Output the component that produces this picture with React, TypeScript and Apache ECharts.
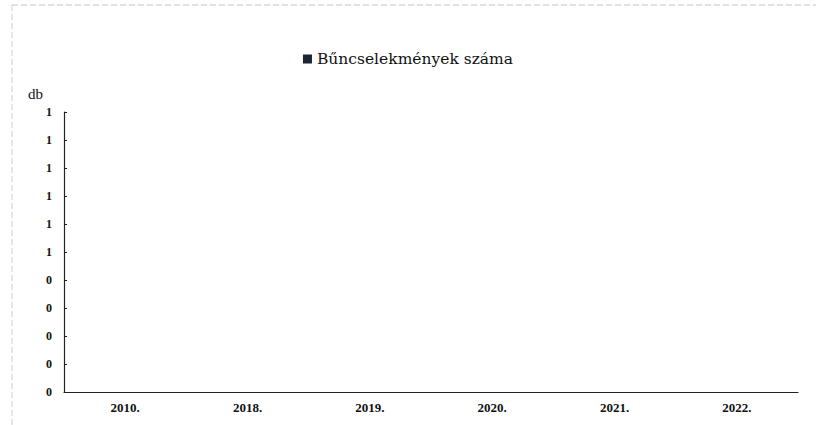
import React, { useEffect, useRef } from "react";
import * as echarts from "echarts";

const categories = ["2010.", "2018.", "2019.", "2020.", "2021.", "2022."];
const crimeCounts = [0, 0, 0, 0, 0, 0];
const seriesName = "Bűncselekmények száma";
const yAxisName = "db";

export default function App() {
  const ref = useRef<HTMLDivElement>(null);
  useEffect(() => {
    if (!ref.current) return;
    const chart = echarts.init(ref.current, null, { renderer: "svg" });
    const serif = "'Liberation Serif', 'Times New Roman', serif";
    const wideSerif = "'DejaVu Serif', serif";
    chart.setOption({
      animation: false,
      backgroundColor: "#ffffff",
      textStyle: { fontFamily: serif },
      graphic: [
        {
          type: "line",
          shape: { x1: 12, y1: 5, x2: 816, y2: 5 },
          style: { stroke: "#c4c4c4", lineWidth: 1, lineDash: [6, 3] },
        },
        {
          type: "line",
          shape: { x1: 12, y1: 5, x2: 12, y2: 425 },
          style: { stroke: "#cfcfcf", lineWidth: 1, lineDash: [6, 3] },
        },
      ],
      legend: {
        top: 46,
        left: "center",
        icon: "rect",
        itemWidth: 9,
        itemHeight: 9,
        itemGap: 4,
        textStyle: { fontFamily: wideSerif, fontSize: 15.5, color: "#111" },
        data: [seriesName],
      },
      grid: { left: 64, right: 18, top: 112, bottom: 33 },
      xAxis: {
        type: "category",
        data: categories,
        axisLine: { lineStyle: { color: "#222", width: 1.2 } },
        axisTick: { show: false },
        axisLabel: {
          fontFamily: serif,
          fontWeight: "bold",
          fontSize: 13,
          color: "#111",
          margin: 9,
        },
      },
      yAxis: {
        type: "value",
        min: 0,
        max: 1,
        interval: 0.1,
        name: yAxisName,
        nameLocation: "end",
        nameGap: 11,
        nameTextStyle: {
          fontFamily: serif,
          fontSize: 15,
          color: "#111",
          align: "right",
          padding: [0, 21, 0, 0],
        },
        axisLine: { show: true, lineStyle: { color: "#222", width: 1.2 } },
        axisTick: { show: true, inside: true, length: 3, lineStyle: { color: "#222" } },
        splitLine: { show: false },
        axisLabel: {
          fontFamily: serif,
          fontWeight: "bold",
          fontSize: 12,
          color: "#111",
          margin: 12,
          formatter: (v: number) => String(Math.round(v + 1e-9)),
        },
      },
      series: [
        {
          name: seriesName,
          type: "bar",
          data: crimeCounts,
          itemStyle: { color: "#1b2433" },
          barWidth: "40%",
        },
      ],
    });
    return () => chart.dispose();
  }, []);
  return (
    <div
      ref={ref}
      style={{ position: "fixed", left: 0, top: 0, width: 816, height: 425 }}
    />
  );
}
